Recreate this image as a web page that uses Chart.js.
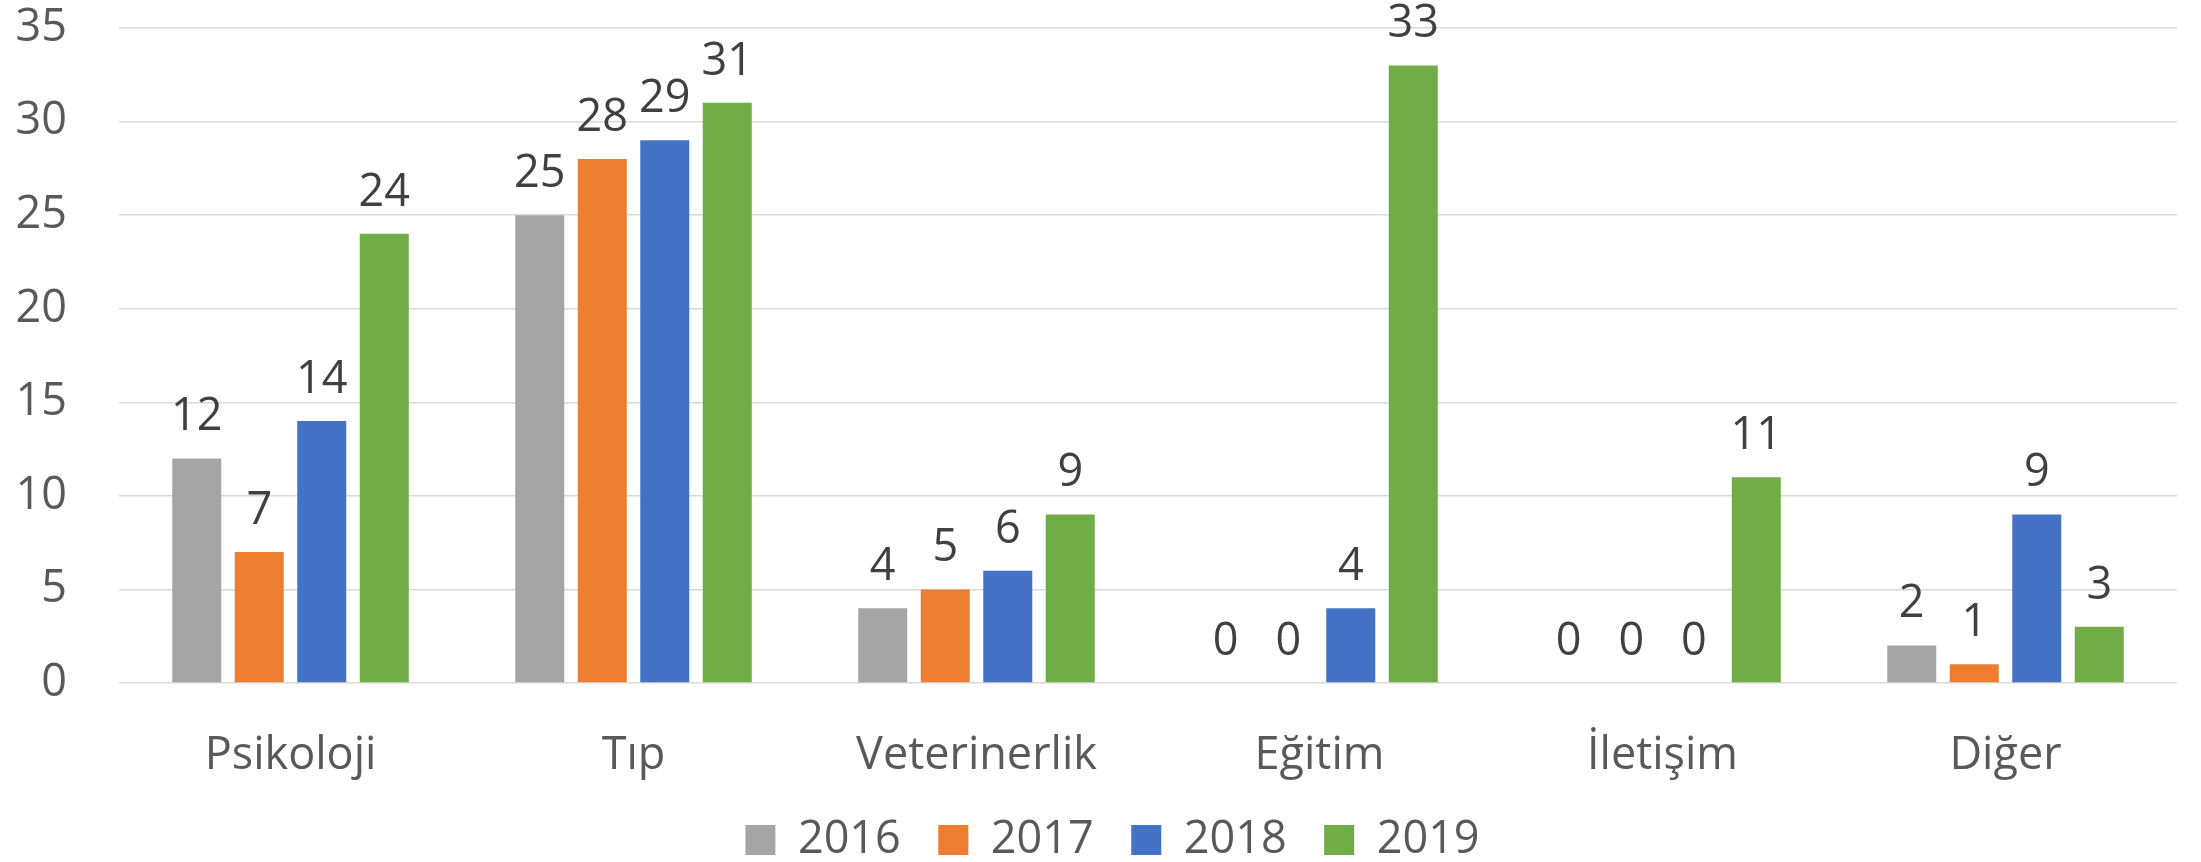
<!DOCTYPE html>
<html>
<head>
<meta charset="utf-8">
<script src="https://cdn.jsdelivr.net/npm/chart.js@4/dist/chart.umd.min.js"></script>
<style>
html,body{margin:0;padding:0;background:#fff;}
#wrap{width:2201px;height:862px;position:relative;}
</style>
</head>
<body>
<div id="wrap"><canvas id="c" width="2201" height="862"></canvas></div>
<script>
const categories = ['Psikoloji', 'Tıp', 'Veterinerlik', 'Eğitim', 'İletişim', 'Diğer'];
const seriesNames = ['2016', '2017', '2018', '2019'];
const values2016 = [12, 25, 4, 0, 0, 2];
const values2017 = [7, 28, 5, 0, 0, 1];
const values2018 = [14, 29, 6, 4, 0, 9];
const values2019 = [24, 31, 9, 33, 11, 3];
const yTicks = [0, 5, 10, 15, 20, 25, 30, 35];

const colors = ['#A5A5A5', '#ED7D31', '#4472C4', '#70AD47'];
const FONT = "'Open Sans', 'Liberation Sans', sans-serif";

const allSeries = [values2016, values2017, values2018, values2019];

const dataLabels = {
  id: 'dataLabels',
  afterDatasetsDraw(chart) {
    const ctx = chart.ctx;
    ctx.save();
    ctx.font = '45px ' + FONT;
    ctx.fillStyle = '#404040';
    ctx.textAlign = 'center';
    ctx.textBaseline = 'middle';
    chart.data.datasets.forEach((ds, i) => {
      const meta = chart.getDatasetMeta(i);
      meta.data.forEach((el, j) => {
        ctx.fillText(String(ds.data[j]), el.x, el.y - 41);
      });
    });
    ctx.restore();
  }
};

const legendShift = {
  id: 'legendShift',
  afterLayout(chart) {
    const lg = chart.legend;
    if (lg) { lg.left += 24; lg.right += 24; }
  }
};

new Chart(document.getElementById('c'), {
  type: 'bar',
  data: {
    labels: categories,
    datasets: allSeries.map((vals, i) => ({
      label: seriesNames[i],
      data: vals,
      backgroundColor: colors[i],
      borderWidth: 0,
      categoryPercentage: 0.729,
      barPercentage: 0.784
    }))
  },
  options: {
    responsive: false,
    animation: false,
    devicePixelRatio: 1,
    layout: { padding: { left: 0, right: 24, top: 28, bottom: -10.5 } },
    scales: {
      x: {
        grid: { display: false, drawTicks: false },
        border: { display: false },
        ticks: { color: '#595959', font: { size: 45, family: FONT }, padding: 46, maxRotation: 0, autoSkip: false },
        afterFit(s) { s.height = 97; s.paddingLeft = 0; s.paddingRight = 0; }
      },
      y: {
        min: 0, max: 35,
        afterBuildTicks(s) { s.ticks = yTicks.map(v => ({ value: v })); },
        grid: { color: '#D9D9D9', lineWidth: 1.5, drawTicks: false },
        border: { display: false },
        ticks: { color: '#595959', font: { size: 45, family: FONT }, padding: 52 },
        afterFit(s) { s.width = 119; s.paddingTop = 0; s.paddingBottom = 0; }
      }
    },
    plugins: {
      legend: {
        position: 'bottom',
        labels: {
          boxWidth: 30, boxHeight: 30, padding: 37.5,
          color: '#595959',
          font: { size: 45, family: FONT }
        }
      },
      tooltip: { enabled: false }
    }
  },
  plugins: [dataLabels, legendShift]
});
</script>
</body>
</html>
